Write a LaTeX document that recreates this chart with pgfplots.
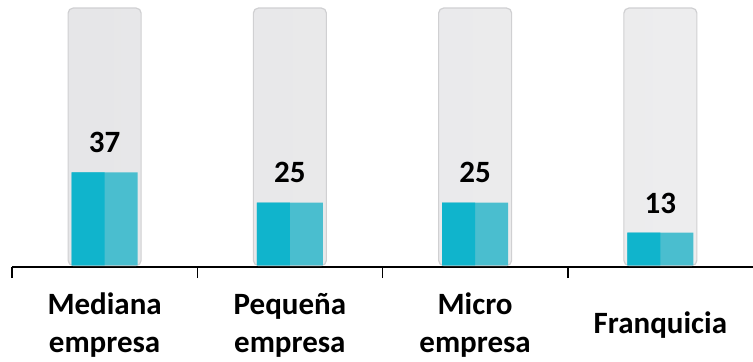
\documentclass[border=0pt]{standalone}
\usepackage{pgfplots}
\pgfplotsset{compat=1.18}
\usepackage{fontspec}
\setmainfont{Carlito}
\definecolor{cylfill}{RGB}{230,230,232}
\definecolor{cylfillR}{RGB}{237,237,238}
\definecolor{cylborder}{RGB}{208,208,210}
\definecolor{cyanL}{RGB}{16,180,204}
\definecolor{cyanR}{RGB}{74,190,207}
\begin{document}
\begin{tikzpicture}
\begin{axis}[
  scale only axis,
  width=741pt, height=267pt,
  xmin=-0.5, xmax=3.5,
  ymin=-0.6, ymax=105.4,
  axis y line=none,
  axis x line*=bottom,
  x axis line style={black, line width=1.6pt},
  xtick={0,1,2,3},
  xticklabels={{Mediana\\empresa},{Pequeña\\empresa},{Micro\\empresa},{Franquicia}},
  major tick length=0pt,
  xticklabel style={font=\fontsize{31}{38}\selectfont\bfseries, align=center, anchor=center, yshift=-58pt},
  extra x ticks={-0.5,0.5,1.5,2.5},
  extra x tick labels={},
  extra x tick style={major tick length=11pt, tick align=outside, tick style={black, line width=1.5pt}},
  /pgf/number format/assume math mode=true,
  ybar,
  clip=false,
]
\addplot[ybar, bar width=73pt, bar shift=0pt, draw=cylborder, line width=1.2pt, left color=cylfill, right color=cylfillR, rounded corners=5pt]
  coordinates {(0,102.2) (1,102.2) (2,102.2) (3,102.2)};
\addplot[ybar, bar width=66pt, bar shift=0pt, fill=cyanR, draw=none,
  nodes near coords={\pgfmathprintnumber{\pgfplotspointmeta}},
  every node near coord/.append style={font=\fontsize{31}{36}\selectfont\bfseries, text=black, anchor=south, yshift=16pt}]
  coordinates {(0,37) (1,25) (2,25) (3,13)};
\addplot[ybar, bar width=33pt, bar shift=-16.5pt, fill=cyanL, draw=none]
  coordinates {(0,37) (1,25) (2,25) (3,13)};
\end{axis}
\pgfresetboundingbox
\path[use as bounding box] (current axis.south west) ++(-12pt,-94pt) rectangle (current axis.north east);
\end{tikzpicture}
\end{document}
